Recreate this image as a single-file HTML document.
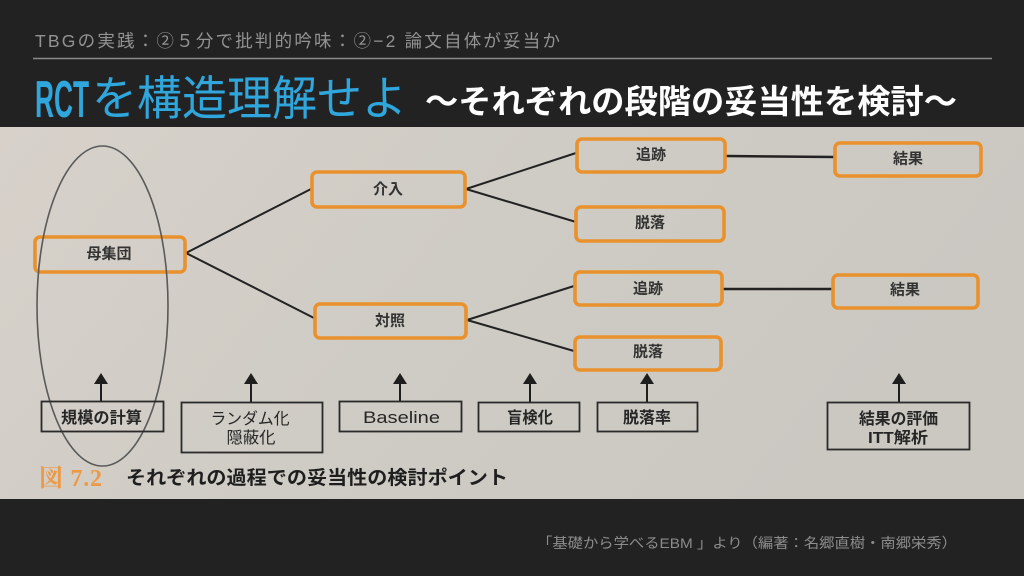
<!DOCTYPE html>
<html><head><meta charset="utf-8">
<style>
html,body{margin:0;padding:0;background:#222;}
svg{display:block;}
text{font-family:"Liberation Sans","Noto Sans CJK JP",sans-serif;}
</style></head>
<body>
<svg width="1024" height="576" viewBox="0 0 1024 576" xmlns="http://www.w3.org/2000/svg">
<defs>
<linearGradient id="pg" x1="0" y1="0" x2="1" y2="0.3">
<stop offset="0" stop-color="#d7d1ca"/>
<stop offset="0.5" stop-color="#cfccc5"/>
<stop offset="1" stop-color="#cac8c1"/>
</linearGradient>
</defs>
<rect width="1024" height="576" fill="#222222"/>
<!-- header -->
<text x="35" y="47" font-size="17.5" fill="#939393" textLength="525" lengthAdjust="spacing">TBGの実践：②５分で批判的吟味：②−2 論文自体が妥当か</text>
<line x1="33" y1="58.5" x2="992" y2="58.5" stroke="#8a8a8a" stroke-width="1.5"/>
<text x="35" y="117" font-size="52" font-weight="bold" fill="#2fa6dc" textLength="54" lengthAdjust="spacingAndGlyphs">RCT</text>
<text x="92" y="115" font-size="47" fill="#2fa6dc" textLength="315" lengthAdjust="spacingAndGlyphs">を構造理解せよ</text>
<text x="425" y="113" font-size="33" font-weight="bold" fill="#ffffff" textLength="532" lengthAdjust="spacingAndGlyphs">〜それぞれの段階の妥当性を検討〜</text>

<!-- photo -->
<rect x="0" y="127" width="1024" height="372" fill="url(#pg)"/>

<!-- connectors -->
<g stroke="#222" stroke-width="2" fill="none">
<line x1="186" y1="253" x2="311" y2="189"/>
<line x1="186" y1="253" x2="314" y2="318"/>
<line x1="466" y1="189" x2="576" y2="153"/>
<line x1="466" y1="189" x2="576" y2="222"/>
<line x1="467" y1="320" x2="574" y2="286"/>
<line x1="467" y1="320" x2="574" y2="351"/>
<line x1="726" y1="156" x2="834" y2="157" stroke-width="2.5"/>
<line x1="723" y1="289" x2="832" y2="289" stroke-width="2.5"/>
</g>

<!-- orange nodes -->
<g stroke="#e9912c" stroke-width="3.6" fill="none">
<rect x="35" y="237" width="150" height="35" rx="5"/>
<rect x="312" y="172" width="153" height="35" rx="5"/>
<rect x="315" y="304" width="151" height="34" rx="5"/>
<rect x="577" y="139" width="148" height="33" rx="5"/>
<rect x="835" y="143" width="146" height="33" rx="5"/>
<rect x="576" y="207" width="148" height="34" rx="5"/>
<rect x="575" y="272" width="147" height="33" rx="5"/>
<rect x="833" y="275" width="145" height="33" rx="5"/>
<rect x="575" y="337" width="146" height="33" rx="5"/>
</g>
<g font-size="15" font-weight="bold" fill="#333" text-anchor="middle">
<text x="109" y="258.5">母集団</text>
<text x="388" y="194">介入</text>
<text x="390" y="325.5">対照</text>
<text x="651" y="159.5">追跡</text>
<text x="908" y="163.5">結果</text>
<text x="650" y="227.5">脱落</text>
<text x="648" y="293.5">追跡</text>
<text x="905" y="294.5">結果</text>
<text x="648" y="356.5">脱落</text>
</g>

<!-- ellipse -->
<ellipse cx="102.5" cy="306" rx="65.5" ry="160" fill="none" stroke="#5a5a5a" stroke-width="1.6"/>

<!-- arrows -->
<g stroke="#1e1e1e" stroke-width="2">
<line x1="101" y1="401" x2="101" y2="382"/>
<line x1="251" y1="402" x2="251" y2="382"/>
<line x1="400" y1="401" x2="400" y2="382"/>
<line x1="530" y1="402" x2="530" y2="382"/>
<line x1="647" y1="402" x2="647" y2="382"/>
<line x1="899" y1="402" x2="899" y2="382"/>
</g>
<g fill="#1e1e1e">
<polygon points="94,384 108,384 101,373"/>
<polygon points="244,384 258,384 251,373"/>
<polygon points="393,384 407,384 400,373"/>
<polygon points="523,384 537,384 530,373"/>
<polygon points="640,384 654,384 647,373"/>
<polygon points="892,384 906,384 899,373"/>
</g>

<!-- bottom boxes -->
<g stroke="#2a2a2a" stroke-width="1.8" fill="none">
<rect x="41.5" y="401.5" width="122" height="30"/>
<rect x="181.5" y="402.5" width="141" height="50"/>
<rect x="339.5" y="401.5" width="122" height="30"/>
<rect x="478.5" y="402.5" width="101" height="29"/>
<rect x="597.5" y="402.5" width="100" height="29"/>
<rect x="827.5" y="402.5" width="142" height="47"/>
</g>
<g font-size="16" fill="#262626" text-anchor="middle">
<text x="101.5" y="423" font-weight="bold" textLength="81" lengthAdjust="spacingAndGlyphs">規模の計算</text>
<text x="250" y="424" textLength="79" lengthAdjust="spacingAndGlyphs">ランダム化</text>
<text x="251" y="443" textLength="49" lengthAdjust="spacingAndGlyphs">隠蔽化</text>
<text x="401.5" y="423" font-size="17" textLength="77" lengthAdjust="spacingAndGlyphs">Baseline</text>
<text x="530" y="423" font-weight="bold" textLength="46" lengthAdjust="spacingAndGlyphs">盲検化</text>
<text x="647" y="423" font-weight="bold" textLength="48" lengthAdjust="spacingAndGlyphs">脱落率</text>
<text x="898.5" y="424" font-weight="bold" textLength="79" lengthAdjust="spacingAndGlyphs">結果の評価</text>
<text x="898" y="443" font-weight="bold" textLength="60" lengthAdjust="spacingAndGlyphs">ITT解析</text>
</g>

<!-- caption -->
<text x="39" y="486" font-size="24" font-weight="bold" fill="#ec9a45" style="font-family:'Liberation Serif','Noto Serif CJK SC',serif" textLength="63" lengthAdjust="spacing">図 7.2</text>
<text x="126" y="484" font-size="19" font-weight="bold" fill="#1e1e1e" textLength="382" lengthAdjust="spacingAndGlyphs">それぞれの過程での妥当性の検討ポイント</text>

<!-- footer -->
<text x="537" y="548" font-size="14" fill="#8c8c8c" textLength="420" lengthAdjust="spacingAndGlyphs">「基礎から学べるEBM 」より（編著：名郷直樹・南郷栄秀）</text>
</svg>
</body></html>
